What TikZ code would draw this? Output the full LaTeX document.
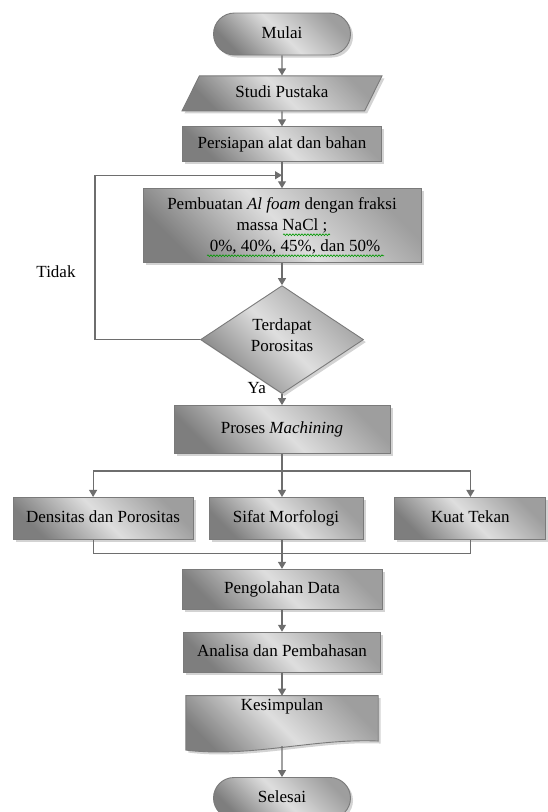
\documentclass[tikz,border=0pt]{standalone}
\usepackage{fontspec}
\setmainfont{Liberation Serif}
\usetikzlibrary{positioning, shapes.geometric, shapes.misc, shadows, arrows.meta, decorations.pathmorphing, backgrounds}
\definecolor{garis}{HTML}{6E6E6E}
\definecolor{tepi}{HTML}{7A7A7A}
\definecolor{gelap}{HTML}{7E7E7E}
\definecolor{terang}{HTML}{DEDEDE}

\begin{document}
\begin{tikzpicture}[x=1pt, y=1pt, font=\fontsize{17}{21}\selectfont,
    kotak/.style={draw=tepi, line width=0.9pt, left color=gelap, right color=gelap!75!white, middle color=terang, shading angle=135,
        drop shadow={shadow xshift=2.5pt, shadow yshift=-2.5pt, opacity=0.35}, inner sep=2pt, align=center},
    blok/.style={kotak, rectangle},
    satu/.style={text height=12pt, text depth=4pt},
    ujung/.style={kotak, satu, rounded rectangle, minimum width=141pt, minimum height=42pt},
    data/.style={kotak, satu, trapezium, trapezium left angle=49, trapezium right angle=131, trapezium stretches body, minimum width=200pt, minimum height=35pt},
    pilih/.style={kotak, diamond, aspect=1.5, minimum width=163pt, minimum height=108pt, inner sep=0pt},
    dok/.style={rectangle, minimum width=192pt, inner sep=4pt, text height=11pt, text depth=31pt},
    garis/.style={draw=garis, line width=1.2pt},
    panah/.style={garis, -{Triangle[width=8pt,length=7pt]}},
    ket/.style={inner sep=1pt},
    salah/.style={draw=green!60!black, line width=0.6pt, decorate, decoration={snake, amplitude=0.9pt, segment length=3pt}}]
    \useasboundingbox (0,0) rectangle (547,-812);
    \node[ujung] (mulai) at (282,-34) {Mulai};
    \node[data, below=20pt of mulai] (studi) {Studi Pustaka};
    \node[blok, satu, minimum width=199pt, minimum height=35pt, below=15pt of studi] (persiapan) {Persiapan alat dan bahan};
    \node[blok, minimum width=278pt, minimum height=74pt, below=26pt of persiapan] (pembuatan) {Pembuatan \textit{Al foam} dengan fraksi\\ massa NaCl ;\\ \hspace*{26pt}0\%, 40\%, 45\%, dan 50\%};
    \node[pilih, below=22pt of pembuatan] (cek) {Terdapat\\ Porositas\\[-11pt]};
    \node[blok, satu, minimum width=216pt, minimum height=48pt, below=11pt of cek] (mesin) {Proses \textit{Machining}};
    \node[blok, satu, minimum width=154pt, minimum height=42pt, below=43pt of mesin, xshift=4pt] (sifat) {Sifat Morfologi};
    \node[blok, satu, minimum width=180pt, minimum height=42pt, left=15pt of sifat] (densitas) {Densitas dan Porositas};
    \node[blok, satu, minimum width=151pt, minimum height=42pt, right=31pt of sifat] (kuat) {Kuat Tekan};
    \node[blok, satu, minimum width=200pt, minimum height=40pt, below=29pt of sifat, xshift=-4pt] (olah) {Pengolahan Data};
    \node[blok, satu, minimum width=197pt, minimum height=40pt, below=22pt of olah] (analisa) {Analisa dan Pembahasan};
    \node[dok, below=23pt of analisa] (simpul) {Kesimpulan};
    \node[ujung, minimum height=41pt, below=31pt of simpul] (selesai) {Selesai};
    \begin{scope}[on background layer]
        \path[kotak] (simpul.north west) -- (simpul.north east) -- ([yshift=5pt]simpul.south east)
            .. controls ([shift={(-64pt,8pt)}]simpul.south east) and ([shift={(64pt,-12pt)}]simpul.south west) .. ([yshift=-4pt]simpul.south west) -- cycle;
    \end{scope}
    \draw[salah] ([shift={(1pt,-9pt)}]pembuatan.center) -- ([shift={(48pt,-9pt)}]pembuatan.center);
    \draw[salah] ([shift={(-75pt,-30pt)}]pembuatan.center) -- ([shift={(102pt,-30pt)}]pembuatan.center);
    \draw[panah] (mulai) -- (studi);
    \draw[panah] (studi) -- (persiapan);
    \draw[panah] (persiapan) -- (pembuatan);
    \draw[panah] (pembuatan) -- (cek);
    \draw[panah] (cek) -- (mesin);
    \coordinate[below=13pt of persiapan] (balik);
    \draw[panah] (cek.west) -- ++(-105pt,0) |- (balik);
    \node[ket] (tidak) at (56,-272) {Tidak};
    \node[ket, anchor=south east, inner sep=0pt] (ya) at ([xshift=-16pt]cek.south) {Ya};
    \coordinate[below=17pt of mesin] (cabang);
    \draw[garis] (mesin) -- (cabang);
    \draw[panah] (cabang) -| ([xshift=-10pt]densitas.north);
    \draw[panah] (cabang) -- (cabang |- sifat.north);
    \draw[panah] (cabang) -| (kuat);
    \path (olah.north |- sifat.south) ++(0,-14pt) coordinate (gabung);
    \draw[garis] ([xshift=-10pt]densitas.south) |- (gabung) -| (kuat.south);
    \draw[garis] (sifat.south -| gabung) -- (gabung);
    \draw[panah] (gabung) -- (olah);
    \draw[panah] (olah) -- (analisa);
    \draw[panah] (analisa) -- (simpul);
    \draw[panah] (simpul) -- (selesai);
\end{tikzpicture}
\end{document}
